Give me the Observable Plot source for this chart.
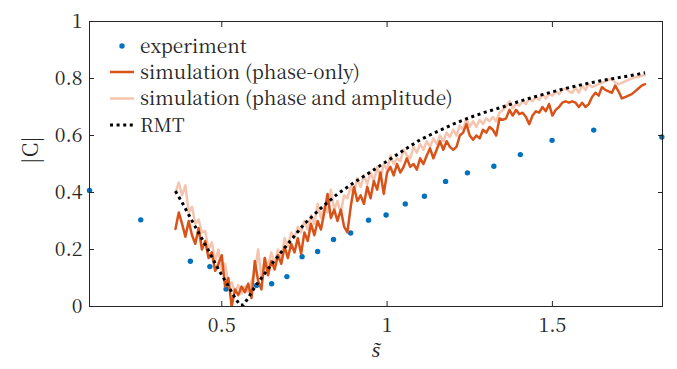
<!DOCTYPE html>
<html><head><meta charset="utf-8">
<script src="https://cdn.jsdelivr.net/npm/d3@7"></script>
<script src="https://cdn.jsdelivr.net/npm/@observablehq/plot@0.6"></script>
<style>
body{margin:0;background:#fff;}
#wrap{position:relative;width:677px;height:369px;font-family:'Noto Sans CJK SC',serif;}
#legend{position:absolute;left:0;top:0;}
</style></head>
<body><div id="wrap"></div>
<script>
const xTicks = [0.5, 1, 1.5];
const yTicks = [0, 0.2, 0.4, 0.6, 0.8, 1];

const expX = [0.1,0.255,0.405,0.464,0.513,0.605,0.651,0.697,0.743,0.790,0.838,0.890,0.944,0.997,1.055,1.113,1.177,1.243,1.323,1.403,1.499,1.625,1.831];
const expY = [0.407,0.304,0.159,0.140,0.061,0.074,0.080,0.105,0.175,0.193,0.235,0.258,0.303,0.321,0.360,0.387,0.439,0.469,0.492,0.533,0.583,0.619,0.595];

const simStart = 0.36, simStep = 0.01;
const phaseOnly = [0.272,0.33,0.29,0.245,0.30,0.25,0.22,0.275,0.20,0.23,0.17,0.19,0.125,0.15,0.18,0.07,0.10,0.0,0.06,0.04,0.07,0.05,0.08,0.03,
0.16,0.09,0.06,0.17,0.11,0.16,0.13,0.18,0.15,0.21,0.17,0.22,0.19,0.24,0.185,0.26,0.23,0.29,0.25,0.30,0.27,0.33,0.395,0.31,0.34,0.30,0.34,0.28,0.26,0.35,
0.42,0.37,0.39,0.36,0.42,0.38,0.44,0.41,0.47,0.395,0.47,0.49,0.46,0.50,0.47,0.49,0.52,0.49,0.50,0.48,0.52,0.50,0.53,0.555,0.52,0.55,0.58,0.55,0.58,0.56,
0.55,0.56,0.60,0.61,0.64,0.60,0.585,0.60,0.59,0.62,0.61,0.63,0.62,0.60,0.66,0.655,0.66,0.69,0.67,0.69,0.675,0.68,0.665,0.64,0.67,0.685,0.68,0.70,0.685,0.71,
0.67,0.69,0.70,0.715,0.72,0.715,0.72,0.715,0.70,0.715,0.70,0.71,0.735,0.75,0.74,0.77,0.76,0.755,0.75,0.775,0.755,0.73,0.735,0.74,0.745,0.755,0.765,0.775,0.78];
const phaseAmp = [0.40,0.435,0.39,0.425,0.33,0.35,0.29,0.305,0.26,0.265,0.20,0.225,0.16,0.20,0.12,0.15,0.08,0.085,0.05,0.075,0.045,0.07,0.05,0.09,
0.12,0.20,0.10,0.17,0.14,0.19,0.15,0.20,0.17,0.24,0.21,0.26,0.24,0.28,0.26,0.30,0.27,0.32,0.29,0.36,0.31,0.35,0.33,0.41,0.34,0.37,0.33,0.39,0.38,0.42,
0.40,0.45,0.42,0.46,0.43,0.47,0.44,0.49,0.45,0.50,0.48,0.53,0.50,0.52,0.51,0.55,0.53,0.52,0.56,0.54,0.57,0.55,0.58,0.56,0.59,0.57,0.60,0.58,0.61,0.595,
0.62,0.60,0.635,0.62,0.66,0.63,0.65,0.63,0.655,0.64,0.66,0.65,0.665,0.65,0.68,0.69,0.70,0.72,0.695,0.71,0.705,0.72,0.71,0.73,0.72,0.735,0.725,0.745,0.73,0.745,
0.74,0.755,0.745,0.76,0.765,0.755,0.75,0.77,0.75,0.775,0.76,0.78,0.77,0.775,0.78,0.785,0.79,0.795,0.80,0.785,0.78,0.785,0.79,0.795,0.80,0.805,0.805,0.81,0.812];

const rmtX = [0.36,0.38,0.40,0.42,0.44,0.46,0.48,0.50,0.52,0.54,0.555,0.565,0.58,0.60,0.62,0.65,0.70,0.75,0.80,0.85,0.90,0.95,1.00,1.05,1.10,1.15,1.20,1.25,1.30,1.35,1.40,1.45,1.50,1.55,1.60,1.65,1.70,1.75,1.78];
const rmtY = [0.405,0.365,0.322,0.28,0.238,0.196,0.152,0.11,0.072,0.03,0.005,0.005,0.03,0.068,0.1,0.147,0.22,0.29,0.345,0.395,0.435,0.472,0.51,0.548,0.585,0.613,0.64,0.663,0.683,0.70,0.72,0.737,0.753,0.768,0.781,0.793,0.803,0.813,0.82];

const legendLabels = ["experiment","simulation (phase-only)","simulation (phase and amplitude)","RMT"];
const colors = {exp:"#0072BD", dark:"#D95319", light:"#F5C5AF", rmt:"#000000"};

const expData = expX.map((x,i)=>({x, y:expY[i]}));
const darkData = phaseOnly.map((y,i)=>({x: simStart + i*simStep, y}));
const lightData = phaseAmp.map((y,i)=>({x: simStart + i*simStep, y}));
const rmtData = rmtX.map((x,i)=>({x, y:rmtY[i]}));

const FONT = "Noto Serif CJK SC";
const axisColor = "#262626";
const chart = Plot.plot({
  width: 677, height: 369,
  marginLeft: 89, marginRight: 15, marginTop: 21, marginBottom: 63,
  style: {fontFamily: FONT, fontSize: "19.5px", color: axisColor, background: "#fff"},
  x: {domain: [0.1, 1.833]},
  y: {domain: [0, 1]},
  marks: [
    Plot.dot(expData, {x:"x", y:"y", r:2.7, fill: colors.exp, stroke: null}),
    Plot.line(lightData, {x:"x", y:"y", stroke: colors.light, strokeWidth: 2.5, clip: true}),
    Plot.line(darkData, {x:"x", y:"y", stroke: colors.dark, strokeWidth: 2.5, clip: true}),
    Plot.line(rmtData, {x:"x", y:"y", stroke: colors.rmt, strokeWidth: 3, strokeDasharray: "3,3.6", strokeLinecap: "butt", clip: true}),
    Plot.frame({stroke: axisColor, strokeWidth: 1}),
    Plot.axisX({ticks: xTicks, anchor: "bottom", tickSize: -5, text: null, label: null, stroke: axisColor}),
    Plot.axisX({ticks: xTicks, anchor: "top", tickSize: -5, text: null, label: null, stroke: axisColor}),
    Plot.axisY({ticks: yTicks, anchor: "left", tickSize: -5, text: null, label: null, stroke: axisColor}),
    Plot.axisY({ticks: yTicks, anchor: "right", tickSize: -5, text: null, label: null, stroke: axisColor}),
    Plot.axisX({ticks: xTicks, anchor: "bottom", tickSize: 0, tickPadding: 12, label: null, tickFormat: d => String(d), fill: axisColor, fontFamily: FONT}),
    Plot.axisY({ticks: yTicks, anchor: "left", tickSize: 0, tickPadding: 7, label: null, tickFormat: d => String(d), fill: axisColor, fontFamily: FONT}),
    Plot.text(["|C|"], {frameAnchor: "left", dx: -58, rotate: -90, text: d => d, fontSize: 21, fill: axisColor, fontFamily: FONT}),
    Plot.text(["s\u0303"], {frameAnchor: "bottom", dy: 50, text: d => d, fontSize: 22, fontStyle: "italic", fill: axisColor, fontFamily: FONT})
  ]
});
const wrap = document.getElementById("wrap");
wrap.appendChild(chart);

// legend overlay
const ns = "http://www.w3.org/2000/svg";
const lg = document.createElementNS(ns, "svg");
lg.setAttribute("id","legend"); lg.setAttribute("width", 677); lg.setAttribute("height", 369);
const rows = [46, 72, 98.5, 125];
const styles = [
  {type:"dot", color: colors.exp},
  {type:"line", color: colors.dark, w:2.5},
  {type:"line", color: colors.light, w:2.5},
  {type:"dash", color: colors.rmt, w:3}
];
rows.forEach((yy, i) => {
  const s = styles[i];
  if (s.type === "dot") {
    const c = document.createElementNS(ns, "circle");
    c.setAttribute("cx", 122); c.setAttribute("cy", yy); c.setAttribute("r", 2.7); c.setAttribute("fill", s.color);
    lg.appendChild(c);
  } else {
    const l = document.createElementNS(ns, "line");
    l.setAttribute("x1", 110); l.setAttribute("x2", 134); l.setAttribute("y1", yy); l.setAttribute("y2", yy);
    l.setAttribute("stroke", s.color); l.setAttribute("stroke-width", s.w);
    if (s.type === "dash") l.setAttribute("stroke-dasharray", "3,3.6");
    lg.appendChild(l);
  }
  const t = document.createElementNS(ns, "text");
  t.setAttribute("x", 140); t.setAttribute("y", yy); t.setAttribute("dy", "0.35em");
  t.setAttribute("font-family", FONT); t.setAttribute("font-size", 19);
  t.setAttribute("fill", axisColor);
  t.textContent = legendLabels[i];
  lg.appendChild(t);
});
wrap.appendChild(lg);
</script></body></html>
